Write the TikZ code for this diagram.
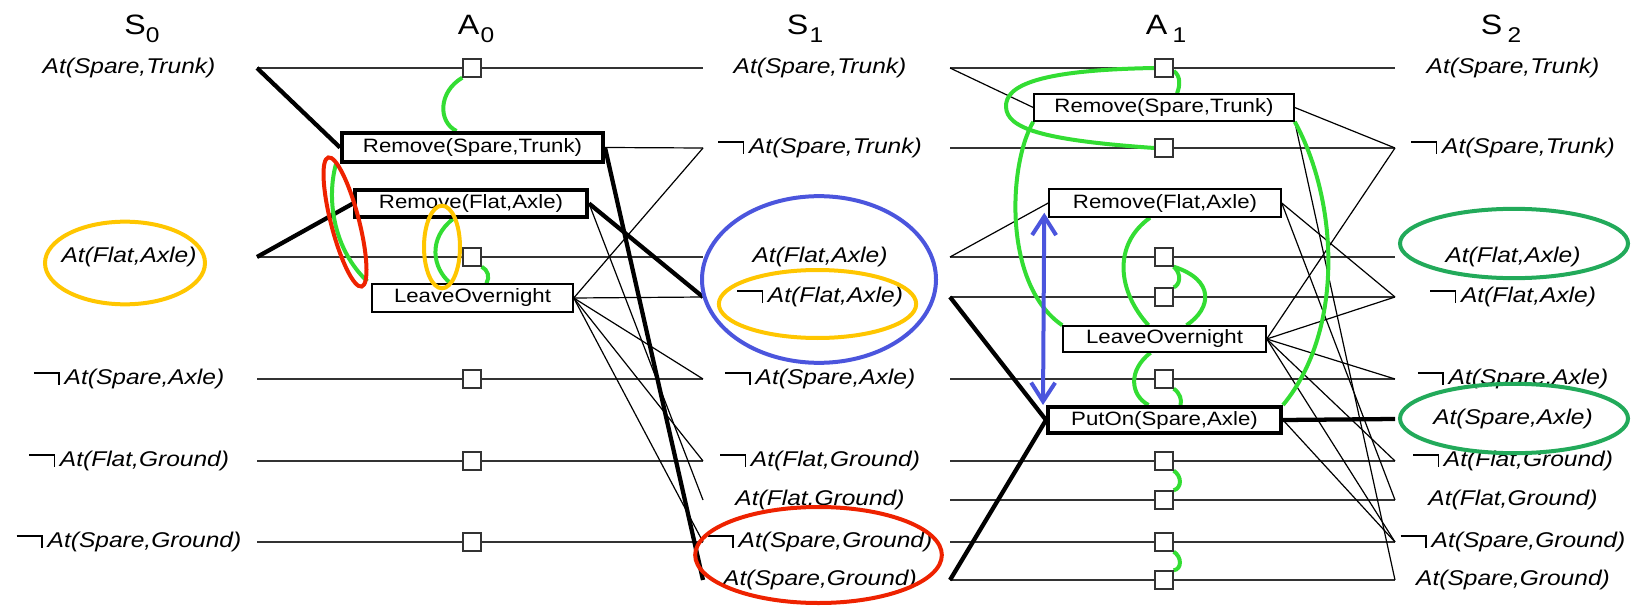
\documentclass[tikz,border=0pt]{standalone}
\usepackage{fontspec}
\newfontfamily\hv[FakeStretch=1.15]{Liberation Sans}
\usetikzlibrary{arrows.meta,calc}
\pgfdeclarelayer{bg}
\pgfdeclarelayer{mid}
\pgfsetlayers{bg,mid,main}

\definecolor{mutexgreen}{HTML}{33DD33}
\definecolor{ringyellow}{HTML}{FFC600}
\definecolor{ringred}{HTML}{EE2200}
\definecolor{ringblue}{HTML}{4B55DD}
\definecolor{ringgreen}{HTML}{22AA5A}
\definecolor{rowgray}{HTML}{333333}

% negation sign: long bar with a short downward tick
\newcommand\nt{\rule[8pt]{18.5pt}{1.2pt}\rule{1.2pt}{9.2pt}\kern3.5pt}

\begin{document}
\begin{tikzpicture}[x=0.75pt,y=-0.75pt,
  lit/.style={font=\hv\itshape\fontsize{16}{19}\selectfont, inner sep=0pt},
  hdr/.style={font=\hv\fontsize{21}{24}\selectfont, inner sep=0pt, anchor=base},
  act/.style={draw=black, fill=white, inner sep=0pt, font=\hv\fontsize{14.5}{17}\selectfont, line width=1.1pt},
  bold act/.style={act, line width=3pt},
  pers/.style={draw=rowgray, fill=white, minimum size=13.5pt, inner sep=0pt, line width=1pt},
  row/.style={draw=rowgray, line width=1pt},
  eff/.style={draw=black, line width=0.9pt},
  beff/.style={draw=black, line width=3.2pt},
  mutex/.style={draw=mutexgreen, line width=3pt},
  ring/.style={line width=3pt},
  barbs/.style={{Straight Barb[length=14pt,width=18pt]}-{Straight Barb[length=14pt,width=18pt]}},
]
\useasboundingbox (0,0) rectangle (1631,606);

% column headers
\node[hdr] (hS0) at (142,35) {S\raisebox{-6pt}{\fontsize{16}{18}\selectfont 0}};
\node[hdr] (hA0) at (476,35) {A\kern1pt\raisebox{-6pt}{\fontsize{16}{18}\selectfont 0}};
\node[hdr] (hS1) at (805,35) {S\kern1pt\raisebox{-6pt}{\fontsize{16}{18}\selectfont 1}};
\node[hdr] (hA1) at (1166,35) {A\kern4pt\raisebox{-6pt}{\fontsize{16}{18}\selectfont 1}};
\node[hdr] (hS2) at (1501,35) {S\kern4pt\raisebox{-6pt}{\fontsize{16}{18}\selectfont 2}};

% row end points
\foreach \n/\y in {st/68, nst/148, fa/257, nfa/297, nsa/379, sa/419, nfg/461, fg/500, nsg/542, sg/580} {
  \coordinate (L0-\n) at (257,\y);
  \coordinate (R0-\n) at (703,\y);
  \coordinate (L1-\n) at (950,\y);
  \coordinate (R1-\n) at (1395,\y);
}

% literals, level S0
\node[lit] (s0-st)  at (129,68)  {At(Spare,Trunk)};
\node[lit] (s0-fa)  at (129,257) {At(Flat,Axle)};
\node[lit] (s0-nsa) at (129,379) {\nt At(Spare,Axle)};
\node[lit] (s0-nfg) at (129,461) {\nt At(Flat,Ground)};
\node[lit] (s0-nsg) at (129,542) {\nt At(Spare,Ground)};

% literals, level S1
\node[lit] (s1-st)  at (820,68)  {At(Spare,Trunk)};
\node[lit] (s1-nst) at (820,148) {\nt At(Spare,Trunk)};
\node[lit] (s1-fa)  at (820,257) {At(Flat,Axle)};
\node[lit] (s1-nfa) at (820,297) {\nt At(Flat,Axle)};
\node[lit] (s1-nsa) at (820,379) {\nt At(Spare,Axle)};
\node[lit] (s1-nfg) at (820,461) {\nt At(Flat,Ground)};
\node[lit] (s1-fg)  at (820,500) {At(Flat,Ground)};
\node[lit] (s1-nsg) at (820,542) {\nt At(Spare,Ground)};
\node[lit] (s1-sg)  at (820,580) {At(Spare,Ground)};

% literals, level S2
\node[lit] (s2-st)  at (1513,68)  {At(Spare,Trunk)};
\node[lit] (s2-nst) at (1513,148) {\nt At(Spare,Trunk)};
\node[lit] (s2-fa)  at (1513,257) {At(Flat,Axle)};
\node[lit] (s2-nfa) at (1513,297) {\nt At(Flat,Axle)};
\node[lit] (s2-nsa) at (1513,379) {\nt At(Spare,Axle)};
\node[lit] (s2-sa)  at (1513,419) {At(Spare,Axle)};
\node[lit] (s2-nfg) at (1513,461) {\nt At(Flat,Ground)};
\node[lit] (s2-fg)  at (1513,500) {At(Flat,Ground)};
\node[lit] (s2-nsg) at (1513,542) {\nt At(Spare,Ground)};
\node[lit] (s2-sg)  at (1513,580) {At(Spare,Ground)};

% persistence actions
\foreach \n/\y in {st/68, fa/257, nsa/379, nfg/461, nsg/542}
  \node[pers] (P0-\n) at (472,\y) {};
\foreach \n/\y in {st/68, nst/148, fa/257, nfa/297, nsa/379, nfg/461, fg/500, nsg/542, sg/580}
  \node[pers] (P1-\n) at (1164,\y) {};

% actions, level A0
\node[bold act, minimum width=195.75pt, minimum height=21.75pt] (rst0) at (472.5,147.5) {Remove(Spare,Trunk)};
\node[bold act, minimum width=174pt, minimum height=20.25pt] (rfa0) at (471,203.5) {Remove(Flat,Axle)};
\node[act, minimum width=150.75pt, minimum height=21pt] (lo0) at (472.5,298) {LeaveOvernight};

% actions, level A1
\node[act, minimum width=195pt, minimum height=20.25pt] (rst1) at (1164,107.5) {Remove(Spare,Trunk)};
\node[act, minimum width=174pt, minimum height=21pt] (rfa1) at (1165,203) {Remove(Flat,Axle)};
\node[act, minimum width=152.25pt, minimum height=19.5pt] (lo1) at (1164.5,339) {LeaveOvernight};
\node[bold act, minimum width=174.75pt, minimum height=19.5pt] (po1) at (1164.5,420) {PutOn(Spare,Axle)};

\begin{pgfonlayer}{bg}
  % persistence rows
  \foreach \n in {st, fa, nsa, nfg, nsg}
    \draw[row] (L0-\n) -- (P0-\n) -- (R0-\n);
  \foreach \n in {st, nst, fa, nfa, nsa, nfg, fg, nsg, sg}
    \draw[row] (L1-\n) -- (P1-\n) -- (R1-\n);

  % preconditions and effects, A0
  \draw[beff] (L0-st) -- (rst0.west);
  \draw[beff] (L0-fa) -- (rfa0.west);
  \draw[eff] (rst0.east) -- (R0-nst);
  \draw[beff] (rst0.east) -- (R0-sg);
  \draw[beff] (rfa0.east) -- (R0-nfa);
  \draw[eff] (rfa0.east) -- (R0-fg);
  \foreach \t in {nst, nfa, nsa, nfg, nsg}
    \draw[eff] (lo0.east) -- (R0-\t);

  % preconditions and effects, A1
  \draw[eff] (L1-st) -- (rst1.west);
  \draw[eff] (L1-fa) -- (rfa1.west);
  \draw[beff] (L1-nfa) -- (po1.west);
  \draw[beff] (L1-sg) -- (po1.west);
  \draw[eff] (rst1.east) -- (R1-nst);
  \draw[eff] (rst1.south east) -- (R1-sg);
  \draw[eff] (rfa1.east) -- (R1-nfa);
  \draw[eff] (rfa1.east) -- (R1-fg);
  \foreach \t in {nst, nfa, nsa, nfg, nsg}
    \draw[eff] (lo1.east) -- (R1-\t);
  \draw[beff] (po1.east) -- (R1-sa);
  \draw[eff] (po1.east) -- (R1-nsg);
\end{pgfonlayer}

\begin{pgfonlayer}{mid}
  % mutex links, A0
  \draw[mutex] (P0-st.south west) .. controls (438,92) and (438,122) .. ($(rst0.north)+(-16,0)$);
  \draw[mutex] ($(rst0.south west)+(-4,0)$) .. controls (326,200) and (334,250) .. ($(lo0.north west)+(-4,-2)$);
  \draw[mutex] ($(rfa0.south)+(-18,0)$) .. controls (428,238) and (432,268) .. ($(lo0.north)+(-22,0)$);
  \draw[mutex] (P0-fa.south east) .. controls (488,270) and (490,277) .. ($(lo0.north)+(14,0)$);

  % mutex links, A1
  \draw[mutex] (P1-st.west) .. controls (1040,70) and (1005,85) .. (1006,107)
                .. controls (1007,128) and (1040,140) .. (P1-nst.west);
  \draw[mutex] ($(P1-st.east)+(0,3)$) .. controls (1181,76) and (1180,86) .. ($(rst1.north)+(13,0)$);
  \draw[mutex] (rst1.south west) .. controls (1008,165) and (1003,285) .. (lo1.north west);
  \draw[mutex] ($(rfa1.south)+(-15,0)$) .. controls (1112,245) and (1118,292) .. ($(lo1.north)+(-16,0)$);
  \draw[mutex] (P1-fa.south east) .. controls (1215,280) and (1212,308) .. ($(lo1.north)+(22,0)$);
  \draw[mutex] (P1-fa.south east) .. controls (1182,274) and (1180,285) .. (P1-nfa.north east);
  \draw[mutex] ($(lo1.south)+(-14,0)$) .. controls (1128,370) and (1130,395) .. ($(po1.north)+(-16,0)$);
  \draw[mutex] (P1-nsa.south east) .. controls (1180,393) and (1182,400) .. ($(po1.north)+(16,0)$);
  \draw[mutex] (rst1.south east) .. controls (1338,200) and (1345,330) .. (po1.north east);
  \draw[mutex] (P1-nfg.south east) .. controls (1182,476) and (1182,488) .. (P1-fg.north east);
  \draw[mutex] (P1-nsg.south east) .. controls (1182,557) and (1182,569) .. (P1-sg.north east);
\end{pgfonlayer}

% highlight rings
\draw[ring, ringyellow] (125,263) ellipse [x radius=60pt, y radius=31pt];
\draw[ring, ringred, rotate around={14.5:(345,222)}] (345,222) ellipse [x radius=10.5pt, y radius=50pt];
\draw[ring, ringyellow] (442,247) ellipse [x radius=13.5pt, y radius=31pt];
\draw[ring, ringblue] (819,279.5) ellipse [x radius=87.75pt, y radius=62.5pt];
\draw[ring, ringyellow] (817.5,304) ellipse [x radius=74pt, y radius=25.5pt];
\draw[ring, ringred] (818.5,555) ellipse [x radius=92.5pt, y radius=36pt];
\draw[ring, ringgreen] (1514,243.5) ellipse [x radius=85.5pt, y radius=26pt];
\draw[ring, ringgreen] (1514,418.5) ellipse [x radius=85.5pt, y radius=26pt];

% mutual-exclusion arrow
\coordinate (bA) at ($(rfa1.south west)+(-4,-5)$);
\coordinate (bB) at ($(po1.north west)+(-3,0)$);
\draw[ringblue, line width=3pt, barbs] (bA) -- (bB);
\end{tikzpicture}
\end{document}
